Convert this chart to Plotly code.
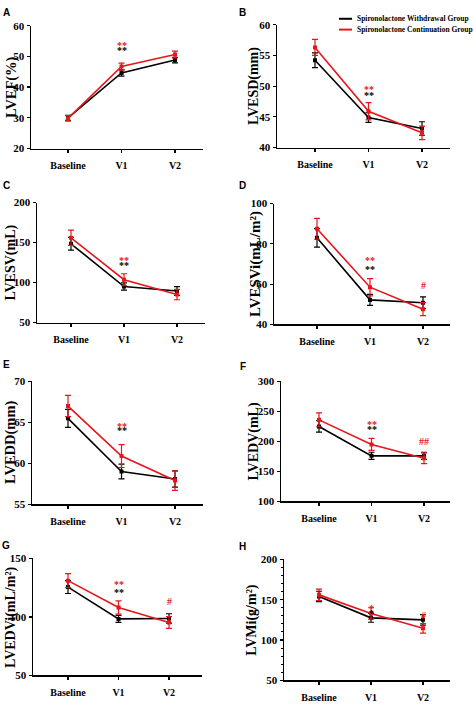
import plotly.graph_objects as go

categories = ["Baseline", "V1", "V2"]
series_names = ["Spironolactone Withdrawal Group", "Spironolactone Continuation Group"]

# Panel A: LVEF(%)
lvef_withdrawal = [30.0, 44.6, 48.8]
lvef_withdrawal_err = [0.8, 1.0, 0.9]
lvef_continuation = [29.8, 46.7, 50.6]
lvef_continuation_err = [0.9, 1.1, 1.1]

# Panel B: LVESD(mm)
lvesd_withdrawal = [54.2, 44.9, 43.1]
lvesd_withdrawal_err = [1.2, 0.8, 1.1]
lvesd_continuation = [56.3, 45.9, 42.4]
lvesd_continuation_err = [1.3, 1.4, 1.1]

# Panel C: LVESV(mL)
lvesv_withdrawal = [148.5, 95.0, 89.5]
lvesv_withdrawal_err = [8.0, 4.5, 5.5]
lvesv_continuation = [156.0, 103.5, 85.0]
lvesv_continuation_err = [9.5, 7.5, 6.5]

# Panel D: LVESVi(mL/m2)
lvesvi_withdrawal = [83.0, 52.2, 50.8]
lvesvi_withdrawal_err = [4.6, 2.7, 2.9]
lvesvi_continuation = [87.5, 58.5, 47.6]
lvesvi_continuation_err = [5.2, 4.3, 3.2]

# Panel E: LVEDD(mm)
lvedd_withdrawal = [65.5, 59.0, 58.1]
lvedd_withdrawal_err = [1.1, 0.9, 1.0]
lvedd_continuation = [67.0, 60.9, 57.9]
lvedd_continuation_err = [1.3, 1.4, 1.2]

# Panel F: LVEDV(mL)
lvedv_withdrawal = [225.0, 176.0, 176.0]
lvedv_withdrawal_err = [9.5, 6.0, 6.0]
lvedv_continuation = [236.0, 195.0, 172.0]
lvedv_continuation_err = [11.5, 10.0, 9.0]

# Panel G: LVEDVi(mL/m2)
lvedvi_withdrawal = [125.5, 98.3, 98.7]
lvedvi_withdrawal_err = [5.5, 3.0, 4.0]
lvedvi_continuation = [131.0, 108.0, 95.2]
lvedvi_continuation_err = [6.0, 5.7, 5.0]

# Panel H: LVMi(g/m2)
lvmi_withdrawal = [154.0, 127.5, 125.0]
lvmi_withdrawal_err = [6.5, 5.5, 6.5]
lvmi_continuation = [156.0, 133.0, 114.5]
lvmi_continuation_err = [7.0, 7.0, 6.0]

panel_letters = ["A", "B", "C", "D", "E", "F", "G", "H"]
y_titles = ["LVEF(%)", "LVESD(mm)", "LVESV(mL)", "LVESVi(mL/m²)",
            "LVEDD(mm)", "LVEDV(mL)", "LVEDVi(mL/m²)", "LVMi(g/m²)"]
y_ranges = [(20, 60), (40, 60), (50, 200), (40, 100), (55, 70), (100, 300), (50, 150), (50, 200)]
y_dticks = [10, 5, 50, 20, 5, 50, 50, 50]

# significance marks: (category index, y value, text, group index)
sig_A = [(1, 53.6, "**", 1), (1, 52.0, "**", 0)]
sig_B = [(1, 49.4, "**", 1), (1, 48.5, "**", 0)]
sig_C = [(1, 128, "**", 1), (1, 121, "**", 0)]
sig_D = [(1, 71.6, "**", 1), (1, 67.3, "**", 0), (2, 59.5, "#", 1)]
sig_E = [(1, 64.5, "**", 1), (1, 64.0, "**", 0)]
sig_F = [(1, 229, "**", 1), (1, 220, "**", 0), (2, 200, "##", 1)]
sig_G = [(1, 127.5, "**", 1), (1, 121, "**", 0), (2, 112.8, "#", 1)]
sig_H = [(1, 139, "*", 1), (1, 132.5, "*", 0), (2, 130, "#", 1)]

data = [
    (lvef_withdrawal, lvef_withdrawal_err, lvef_continuation, lvef_continuation_err, sig_A),
    (lvesd_withdrawal, lvesd_withdrawal_err, lvesd_continuation, lvesd_continuation_err, sig_B),
    (lvesv_withdrawal, lvesv_withdrawal_err, lvesv_continuation, lvesv_continuation_err, sig_C),
    (lvesvi_withdrawal, lvesvi_withdrawal_err, lvesvi_continuation, lvesvi_continuation_err, sig_D),
    (lvedd_withdrawal, lvedd_withdrawal_err, lvedd_continuation, lvedd_continuation_err, sig_E),
    (lvedv_withdrawal, lvedv_withdrawal_err, lvedv_continuation, lvedv_continuation_err, sig_F),
    (lvedvi_withdrawal, lvedvi_withdrawal_err, lvedvi_continuation, lvedvi_continuation_err, sig_G),
    (lvmi_withdrawal, lvmi_withdrawal_err, lvmi_continuation, lvmi_continuation_err, sig_H),
]

W, H = 474, 704
colors = ["#000000", "#e8151b"]
SERIF = "Liberation Serif"

# layout geometry in pixels: y-axis x, x-axis end, top y, bottom y, category x positions,
# title center x, letter x,y, title font size
geom = [
    (31, 203, 20, 145, (68, 122, 175), 11, (6, 7), 14.5),
    (277, 450, 19, 144, (315, 369, 422), 254, (243, 7), 14),
    (37, 205, 200, 322, (71, 124, 177), 11, (6, 183), 14),
    (274, 450, 201, 324, (317, 370, 423), 255, (243, 183), 15),
    (32, 203, 382, 507, (68, 122, 175), 11, (6, 365), 14.5),
    (281, 450, 382, 504, (319, 371, 424), 254, (243, 367), 14),
    (33, 202, 562, 681, (68, 118, 169), 11, (6, 549), 14),
    (284, 450, 563, 686, (319, 371, 423), 252, (243, 550), 14),
]

fig = go.Figure()
annotations = []
shapes = []

for i, (w, we, c, ce, sig) in enumerate(data):
    L, R, T, B, cats, tx, (lx, ly), tfs = geom[i]
    s = (cats[2] - cats[0]) / 2.0
    x0 = 0 - (cats[0] - L) / s
    x1 = 2 + (R - cats[2]) / s
    xa = "xaxis" if i == 0 else f"xaxis{i+1}"
    ya = "yaxis" if i == 0 else f"yaxis{i+1}"
    xr = "x" if i == 0 else f"x{i+1}"
    yr = "y" if i == 0 else f"y{i+1}"
    for g, (vals, errs) in enumerate([(w, we), (c, ce)]):
        fig.add_trace(go.Scatter(
            x=[0, 1, 2], y=vals, mode="lines+markers",
            name=series_names[g], showlegend=False,
            line=dict(color=colors[g], width=1.6),
            marker=dict(color=colors[g], size=4, symbol="square"),
            error_y=dict(type="data", array=errs, visible=True, color=colors[g], thickness=1.2, width=3),
            xaxis=xr, yaxis=yr, hoverinfo="skip",
        ))
    lo, hi = y_ranges[i]
    fig.layout[xa] = dict(
        domain=[L / W, R / W], range=[x0, x1], anchor=yr,
        tickvals=[0, 1, 2], ticktext=categories,
        showline=True, linecolor="black", linewidth=1.5,
        ticks="outside", ticklen=3, tickwidth=1.2, tickcolor="black",
        ticklabelstandoff=4,
        showgrid=False, zeroline=False,
        tickfont=dict(family=SERIF, size=10, color="black", weight="bold"),
        fixedrange=True,
    )
    yaxis = dict(
        domain=[1 - B / H, 1 - T / H], range=[lo, hi], anchor=xr,
        dtick=y_dticks[i], tick0=lo,
        showline=True, linecolor="black", linewidth=1.5,
        ticks="outside", ticklen=3, tickwidth=1.2, tickcolor="black",
        showgrid=False, zeroline=False,
        tickfont=dict(family=SERIF, size=11, color="black", weight="bold"),
        fixedrange=True,
    )
    if i == 7:
        yaxis["minor"] = dict(dtick=10, ticks="outside", ticklen=2, tickwidth=1, tickcolor="black")
    fig.layout[ya] = yaxis

    annotations.append(dict(
        text=y_titles[i], textangle=-90, xref="paper", yref="paper",
        x=tx / W, y=1 - (T + B) / 2 / H, xanchor="center", yanchor="middle",
        showarrow=False, font=dict(family=SERIF, size=tfs, color="black", weight="bold"),
    ))
    annotations.append(dict(
        text=panel_letters[i], xref="paper", yref="paper",
        x=lx / W, y=1 - ly / H, xanchor="center", yanchor="middle",
        showarrow=False, font=dict(family="Liberation Sans", size=10, color="black", weight="bold"),
    ))
    for (ci, yv, txt, g) in sig:
        annotations.append(dict(
            text=txt, xref=xr, yref=yr, x=ci, y=yv, xanchor="center", yanchor="middle",
            showarrow=False, font=dict(family=SERIF, size=10, color=colors[g], weight="bold"),
        ))

# legend (top right)
for g, yy in enumerate([13, 24]):
    shapes.append(dict(type="line", xref="paper", yref="paper",
                       x0=339 / W, x1=352 / W, y0=1 - yy / H, y1=1 - yy / H,
                       line=dict(color=colors[g], width=2)))
    annotations.append(dict(
        text=series_names[g], xref="paper", yref="paper", x=355 / W, y=1 - yy / H,
        xanchor="left", yanchor="middle", showarrow=False,
        font=dict(family=SERIF, size=7.5, color="black", weight="bold"),
    ))

fig.update_layout(
    width=W, height=H, margin=dict(l=0, r=0, t=0, b=0),
    paper_bgcolor="white", plot_bgcolor="white",
    annotations=annotations, shapes=shapes, showlegend=False,
    hovermode=False,
)

fig.write_html(
    "out.html",
    config={"displayModeBar": False, "staticPlot": True},
    post_script="document.body.style.margin='0';document.body.style.overflow='hidden';",
)
